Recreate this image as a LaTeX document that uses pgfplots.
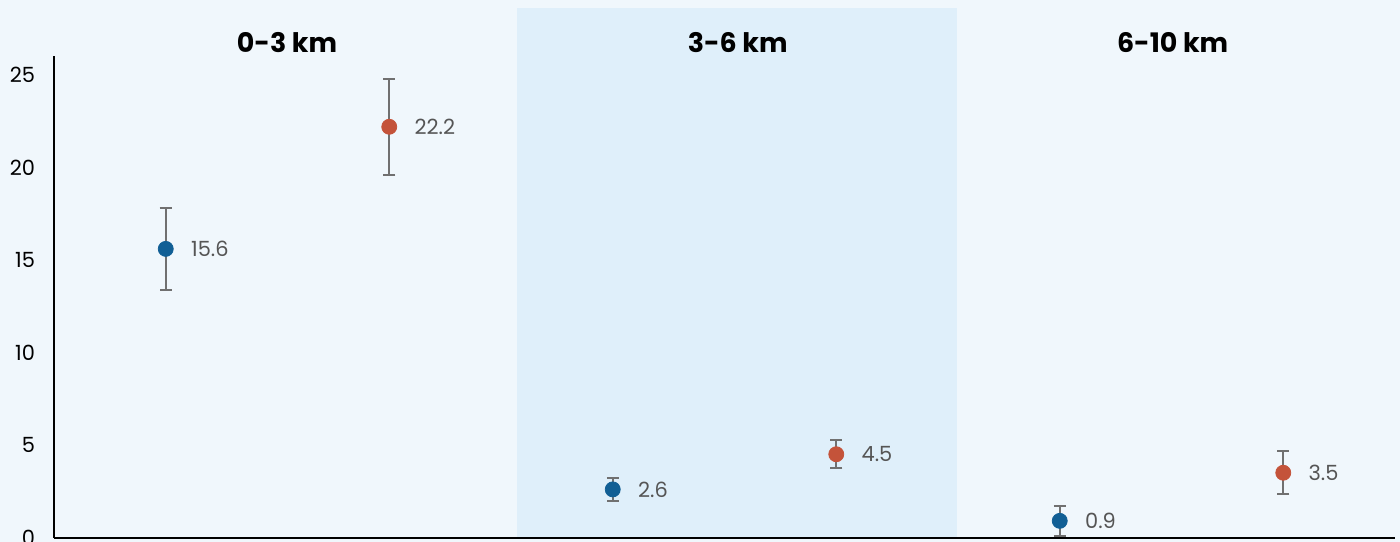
\documentclass[border=0pt]{standalone}
\usepackage{fontspec}
\setmainfont{Poppins}
\usepackage{pgfplots}
\pgfplotsset{compat=1.18}

\definecolor{pagebg}{HTML}{F0F7FC}
\definecolor{bandbg}{HTML}{DFEFFA}
\definecolor{ptblue}{HTML}{115F95}
\definecolor{ptred}{HTML}{C4533A}
\definecolor{errgray}{HTML}{707070}
\definecolor{lblgray}{HTML}{555555}

\begin{document}
\begin{tikzpicture}
\fill[pagebg] (0,0) rectangle (700bp,271bp);
\begin{axis}[
  at={(27bp,2.25bp)}, anchor=south west,
  width=670.5bp, height=240.5bp, scale only axis,
  xmin=-0.5, xmax=5.5, ymin=0, ymax=26,
  axis x line=bottom, axis y line=left,
  axis line style={-, line width=1bp, black},
  xtick=\empty, ytick={0,5,10,15,20,25}, major tick length=0pt,
  yticklabel style={font=\fontsize{10.5}{12}\selectfont, text=black, xshift=-6bp},
  /pgf/number format/assume math mode=true,
  clip=false, axis on top,
  every node near coord/.append style={font=\fontsize{10.5}{12}\selectfont, text=lblgray, inner sep=0pt, xshift=12.5bp},
]
\fill[bandbg] (axis cs:1.57,0) rectangle (axis cs:3.539,28.62);

% blue series: position, mean, error
\addplot[color=ptblue, only marks, mark=*, mark size=3.75bp,
  nodes near coords, nodes near coords align={anchor=west},
  error bars/.cd, y dir=both, y explicit,
  error bar style={line width=1bp, errgray},
  error mark options={rotate=90, line width=1bp, errgray, mark size=3bp}]
  table[x=x, y=y, y error=e] {
x y e
0 15.6 2.2
2 2.6 0.6
4 0.9 0.8
};
% red series: position, mean, error
\addplot[color=ptred, only marks, mark=*, mark size=3.75bp,
  nodes near coords, nodes near coords align={anchor=west},
  error bars/.cd, y dir=both, y explicit,
  error bar style={line width=1bp, errgray},
  error mark options={rotate=90, line width=1bp, errgray, mark size=3bp}]
  table[x=x, y=y, y error=e] {
x y e
1 22.2 2.6
3 4.5 0.75
5 3.5 1.15
};

\node[font=\bfseries\fontsize{13.5}{16}\selectfont] at (axis cs:0.5425,26.73) {0-3 km};
\node[font=\bfseries\fontsize{13.5}{16}\selectfont] at (axis cs:2.559,26.73) {3-6 km};
\node[font=\bfseries\fontsize{13.5}{16}\selectfont] at (axis cs:4.505,26.73) {6-10 km};
\end{axis}
\pgfresetboundingbox
\useasboundingbox (0,0) rectangle (700bp,271bp);
\end{tikzpicture}
\end{document}
